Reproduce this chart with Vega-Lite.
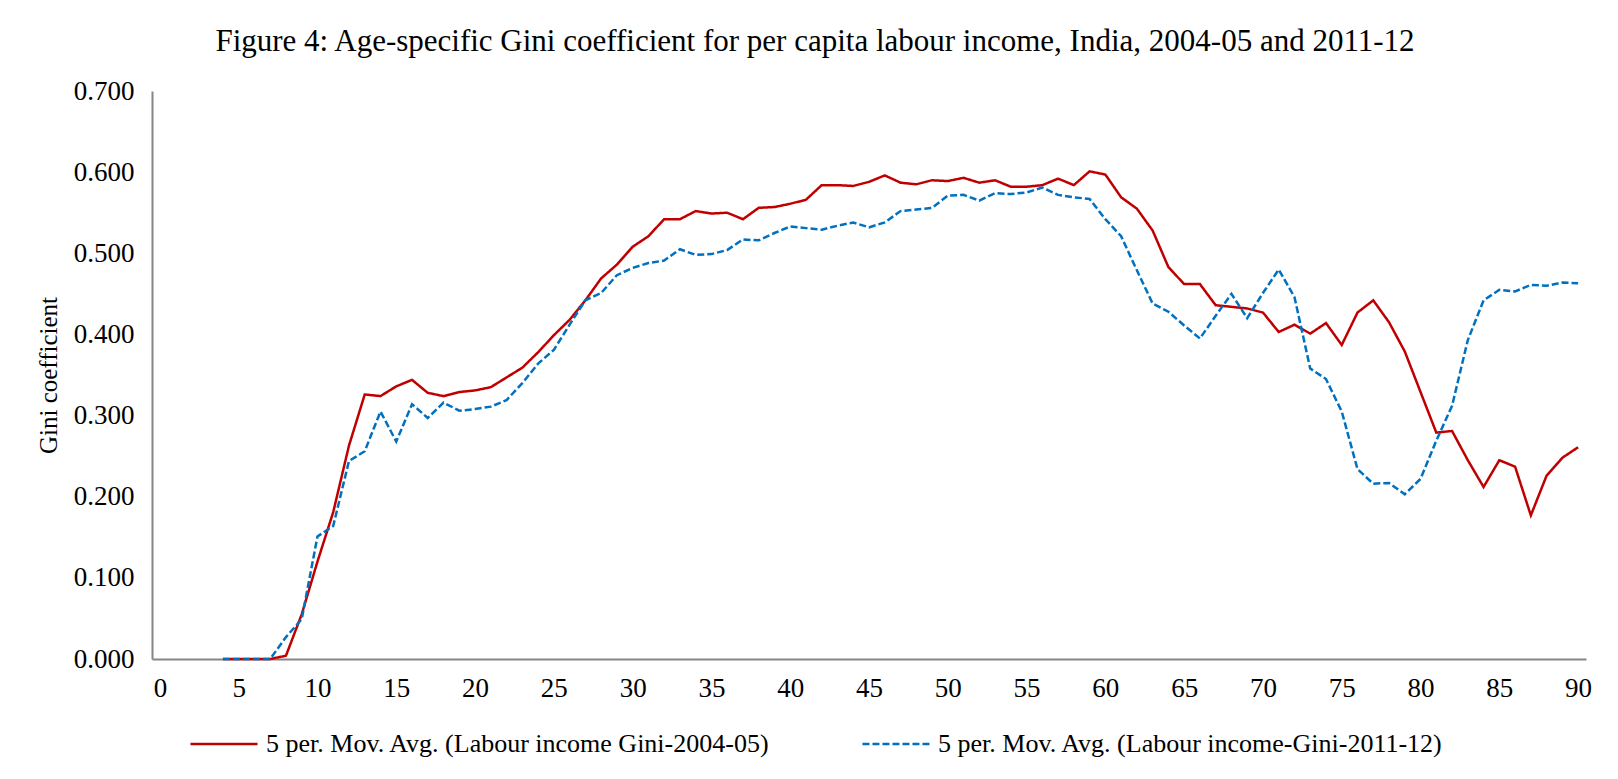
{
  "$schema": "https://vega.github.io/schema/vega-lite/v6.json",
  "width": 1434,
  "height": 568,
  "autosize": {"type": "none"},
  "padding": {"left": 152, "top": 91, "right": 32, "bottom": 120},
  "background": "white",
  "title": {
    "text": "Figure 4: Age-specific Gini coefficient for per capita labour income, India, 2004-05 and 2011-12",
    "font": "Liberation Serif",
    "fontSize": 31,
    "fontWeight": "normal",
    "color": "black",
    "anchor": "middle",
    "dx": -54,
    "offset": 19
  },
  "config": {
    "view": {"stroke": null},
    "axis": {"labelFont": "Liberation Serif", "titleFont": "Liberation Serif", "labelColor": "black", "titleColor": "black", "grid": false, "ticks": false, "domainColor": "#868686", "domainWidth": 2}
  },
  "data": {
    "values": [
      {"age": 4, "series": "5 per. Mov. Avg. (Labour income Gini-2004-05)", "gini": 0},
      {"age": 5, "series": "5 per. Mov. Avg. (Labour income Gini-2004-05)", "gini": 0},
      {"age": 6, "series": "5 per. Mov. Avg. (Labour income Gini-2004-05)", "gini": 0},
      {"age": 7, "series": "5 per. Mov. Avg. (Labour income Gini-2004-05)", "gini": 0},
      {"age": 8, "series": "5 per. Mov. Avg. (Labour income Gini-2004-05)", "gini": 0.004},
      {"age": 9, "series": "5 per. Mov. Avg. (Labour income Gini-2004-05)", "gini": 0.055},
      {"age": 10, "series": "5 per. Mov. Avg. (Labour income Gini-2004-05)", "gini": 0.12},
      {"age": 11, "series": "5 per. Mov. Avg. (Labour income Gini-2004-05)", "gini": 0.181},
      {"age": 12, "series": "5 per. Mov. Avg. (Labour income Gini-2004-05)", "gini": 0.263},
      {"age": 13, "series": "5 per. Mov. Avg. (Labour income Gini-2004-05)", "gini": 0.326},
      {"age": 14, "series": "5 per. Mov. Avg. (Labour income Gini-2004-05)", "gini": 0.324},
      {"age": 15, "series": "5 per. Mov. Avg. (Labour income Gini-2004-05)", "gini": 0.336},
      {"age": 16, "series": "5 per. Mov. Avg. (Labour income Gini-2004-05)", "gini": 0.344},
      {"age": 17, "series": "5 per. Mov. Avg. (Labour income Gini-2004-05)", "gini": 0.328},
      {"age": 18, "series": "5 per. Mov. Avg. (Labour income Gini-2004-05)", "gini": 0.324},
      {"age": 19, "series": "5 per. Mov. Avg. (Labour income Gini-2004-05)", "gini": 0.329},
      {"age": 20, "series": "5 per. Mov. Avg. (Labour income Gini-2004-05)", "gini": 0.331},
      {"age": 21, "series": "5 per. Mov. Avg. (Labour income Gini-2004-05)", "gini": 0.335},
      {"age": 22, "series": "5 per. Mov. Avg. (Labour income Gini-2004-05)", "gini": 0.347},
      {"age": 23, "series": "5 per. Mov. Avg. (Labour income Gini-2004-05)", "gini": 0.359},
      {"age": 24, "series": "5 per. Mov. Avg. (Labour income Gini-2004-05)", "gini": 0.378},
      {"age": 25, "series": "5 per. Mov. Avg. (Labour income Gini-2004-05)", "gini": 0.399},
      {"age": 26, "series": "5 per. Mov. Avg. (Labour income Gini-2004-05)", "gini": 0.418},
      {"age": 27, "series": "5 per. Mov. Avg. (Labour income Gini-2004-05)", "gini": 0.442},
      {"age": 28, "series": "5 per. Mov. Avg. (Labour income Gini-2004-05)", "gini": 0.469},
      {"age": 29, "series": "5 per. Mov. Avg. (Labour income Gini-2004-05)", "gini": 0.486},
      {"age": 30, "series": "5 per. Mov. Avg. (Labour income Gini-2004-05)", "gini": 0.508},
      {"age": 31, "series": "5 per. Mov. Avg. (Labour income Gini-2004-05)", "gini": 0.521},
      {"age": 32, "series": "5 per. Mov. Avg. (Labour income Gini-2004-05)", "gini": 0.542},
      {"age": 33, "series": "5 per. Mov. Avg. (Labour income Gini-2004-05)", "gini": 0.542},
      {"age": 34, "series": "5 per. Mov. Avg. (Labour income Gini-2004-05)", "gini": 0.552},
      {"age": 35, "series": "5 per. Mov. Avg. (Labour income Gini-2004-05)", "gini": 0.549},
      {"age": 36, "series": "5 per. Mov. Avg. (Labour income Gini-2004-05)", "gini": 0.55},
      {"age": 37, "series": "5 per. Mov. Avg. (Labour income Gini-2004-05)", "gini": 0.542},
      {"age": 38, "series": "5 per. Mov. Avg. (Labour income Gini-2004-05)", "gini": 0.556},
      {"age": 39, "series": "5 per. Mov. Avg. (Labour income Gini-2004-05)", "gini": 0.557},
      {"age": 40, "series": "5 per. Mov. Avg. (Labour income Gini-2004-05)", "gini": 0.561},
      {"age": 41, "series": "5 per. Mov. Avg. (Labour income Gini-2004-05)", "gini": 0.566},
      {"age": 42, "series": "5 per. Mov. Avg. (Labour income Gini-2004-05)", "gini": 0.584},
      {"age": 43, "series": "5 per. Mov. Avg. (Labour income Gini-2004-05)", "gini": 0.584},
      {"age": 44, "series": "5 per. Mov. Avg. (Labour income Gini-2004-05)", "gini": 0.583},
      {"age": 45, "series": "5 per. Mov. Avg. (Labour income Gini-2004-05)", "gini": 0.588},
      {"age": 46, "series": "5 per. Mov. Avg. (Labour income Gini-2004-05)", "gini": 0.596},
      {"age": 47, "series": "5 per. Mov. Avg. (Labour income Gini-2004-05)", "gini": 0.587},
      {"age": 48, "series": "5 per. Mov. Avg. (Labour income Gini-2004-05)", "gini": 0.585},
      {"age": 49, "series": "5 per. Mov. Avg. (Labour income Gini-2004-05)", "gini": 0.59},
      {"age": 50, "series": "5 per. Mov. Avg. (Labour income Gini-2004-05)", "gini": 0.589},
      {"age": 51, "series": "5 per. Mov. Avg. (Labour income Gini-2004-05)", "gini": 0.593},
      {"age": 52, "series": "5 per. Mov. Avg. (Labour income Gini-2004-05)", "gini": 0.587},
      {"age": 53, "series": "5 per. Mov. Avg. (Labour income Gini-2004-05)", "gini": 0.59},
      {"age": 54, "series": "5 per. Mov. Avg. (Labour income Gini-2004-05)", "gini": 0.582},
      {"age": 55, "series": "5 per. Mov. Avg. (Labour income Gini-2004-05)", "gini": 0.582},
      {"age": 56, "series": "5 per. Mov. Avg. (Labour income Gini-2004-05)", "gini": 0.584},
      {"age": 57, "series": "5 per. Mov. Avg. (Labour income Gini-2004-05)", "gini": 0.592},
      {"age": 58, "series": "5 per. Mov. Avg. (Labour income Gini-2004-05)", "gini": 0.584},
      {"age": 59, "series": "5 per. Mov. Avg. (Labour income Gini-2004-05)", "gini": 0.601},
      {"age": 60, "series": "5 per. Mov. Avg. (Labour income Gini-2004-05)", "gini": 0.597},
      {"age": 61, "series": "5 per. Mov. Avg. (Labour income Gini-2004-05)", "gini": 0.569},
      {"age": 62, "series": "5 per. Mov. Avg. (Labour income Gini-2004-05)", "gini": 0.555},
      {"age": 63, "series": "5 per. Mov. Avg. (Labour income Gini-2004-05)", "gini": 0.528},
      {"age": 64, "series": "5 per. Mov. Avg. (Labour income Gini-2004-05)", "gini": 0.483},
      {"age": 65, "series": "5 per. Mov. Avg. (Labour income Gini-2004-05)", "gini": 0.462},
      {"age": 66, "series": "5 per. Mov. Avg. (Labour income Gini-2004-05)", "gini": 0.462},
      {"age": 67, "series": "5 per. Mov. Avg. (Labour income Gini-2004-05)", "gini": 0.436},
      {"age": 68, "series": "5 per. Mov. Avg. (Labour income Gini-2004-05)", "gini": 0.434},
      {"age": 69, "series": "5 per. Mov. Avg. (Labour income Gini-2004-05)", "gini": 0.432},
      {"age": 70, "series": "5 per. Mov. Avg. (Labour income Gini-2004-05)", "gini": 0.427},
      {"age": 71, "series": "5 per. Mov. Avg. (Labour income Gini-2004-05)", "gini": 0.403},
      {"age": 72, "series": "5 per. Mov. Avg. (Labour income Gini-2004-05)", "gini": 0.412},
      {"age": 73, "series": "5 per. Mov. Avg. (Labour income Gini-2004-05)", "gini": 0.401},
      {"age": 74, "series": "5 per. Mov. Avg. (Labour income Gini-2004-05)", "gini": 0.414},
      {"age": 75, "series": "5 per. Mov. Avg. (Labour income Gini-2004-05)", "gini": 0.387},
      {"age": 76, "series": "5 per. Mov. Avg. (Labour income Gini-2004-05)", "gini": 0.427},
      {"age": 77, "series": "5 per. Mov. Avg. (Labour income Gini-2004-05)", "gini": 0.442},
      {"age": 78, "series": "5 per. Mov. Avg. (Labour income Gini-2004-05)", "gini": 0.415},
      {"age": 79, "series": "5 per. Mov. Avg. (Labour income Gini-2004-05)", "gini": 0.379},
      {"age": 80, "series": "5 per. Mov. Avg. (Labour income Gini-2004-05)", "gini": 0.329},
      {"age": 81, "series": "5 per. Mov. Avg. (Labour income Gini-2004-05)", "gini": 0.279},
      {"age": 82, "series": "5 per. Mov. Avg. (Labour income Gini-2004-05)", "gini": 0.281},
      {"age": 83, "series": "5 per. Mov. Avg. (Labour income Gini-2004-05)", "gini": 0.245},
      {"age": 84, "series": "5 per. Mov. Avg. (Labour income Gini-2004-05)", "gini": 0.212},
      {"age": 85, "series": "5 per. Mov. Avg. (Labour income Gini-2004-05)", "gini": 0.245},
      {"age": 86, "series": "5 per. Mov. Avg. (Labour income Gini-2004-05)", "gini": 0.237},
      {"age": 87, "series": "5 per. Mov. Avg. (Labour income Gini-2004-05)", "gini": 0.177},
      {"age": 88, "series": "5 per. Mov. Avg. (Labour income Gini-2004-05)", "gini": 0.226},
      {"age": 89, "series": "5 per. Mov. Avg. (Labour income Gini-2004-05)", "gini": 0.248},
      {"age": 90, "series": "5 per. Mov. Avg. (Labour income Gini-2004-05)", "gini": 0.261},
      {"age": 4, "series": "5 per. Mov. Avg. (Labour income-Gini-2011-12)", "gini": 0},
      {"age": 5, "series": "5 per. Mov. Avg. (Labour income-Gini-2011-12)", "gini": 0},
      {"age": 6, "series": "5 per. Mov. Avg. (Labour income-Gini-2011-12)", "gini": 0},
      {"age": 7, "series": "5 per. Mov. Avg. (Labour income-Gini-2011-12)", "gini": 0},
      {"age": 8, "series": "5 per. Mov. Avg. (Labour income-Gini-2011-12)", "gini": 0.027},
      {"age": 9, "series": "5 per. Mov. Avg. (Labour income-Gini-2011-12)", "gini": 0.049},
      {"age": 10, "series": "5 per. Mov. Avg. (Labour income-Gini-2011-12)", "gini": 0.151},
      {"age": 11, "series": "5 per. Mov. Avg. (Labour income-Gini-2011-12)", "gini": 0.164},
      {"age": 12, "series": "5 per. Mov. Avg. (Labour income-Gini-2011-12)", "gini": 0.244},
      {"age": 13, "series": "5 per. Mov. Avg. (Labour income-Gini-2011-12)", "gini": 0.256},
      {"age": 14, "series": "5 per. Mov. Avg. (Labour income-Gini-2011-12)", "gini": 0.305},
      {"age": 15, "series": "5 per. Mov. Avg. (Labour income-Gini-2011-12)", "gini": 0.268},
      {"age": 16, "series": "5 per. Mov. Avg. (Labour income-Gini-2011-12)", "gini": 0.314},
      {"age": 17, "series": "5 per. Mov. Avg. (Labour income-Gini-2011-12)", "gini": 0.297},
      {"age": 18, "series": "5 per. Mov. Avg. (Labour income-Gini-2011-12)", "gini": 0.316},
      {"age": 19, "series": "5 per. Mov. Avg. (Labour income-Gini-2011-12)", "gini": 0.306},
      {"age": 20, "series": "5 per. Mov. Avg. (Labour income-Gini-2011-12)", "gini": 0.308},
      {"age": 21, "series": "5 per. Mov. Avg. (Labour income-Gini-2011-12)", "gini": 0.311},
      {"age": 22, "series": "5 per. Mov. Avg. (Labour income-Gini-2011-12)", "gini": 0.319},
      {"age": 23, "series": "5 per. Mov. Avg. (Labour income-Gini-2011-12)", "gini": 0.34},
      {"age": 24, "series": "5 per. Mov. Avg. (Labour income-Gini-2011-12)", "gini": 0.364},
      {"age": 25, "series": "5 per. Mov. Avg. (Labour income-Gini-2011-12)", "gini": 0.381},
      {"age": 26, "series": "5 per. Mov. Avg. (Labour income-Gini-2011-12)", "gini": 0.412},
      {"age": 27, "series": "5 per. Mov. Avg. (Labour income-Gini-2011-12)", "gini": 0.442},
      {"age": 28, "series": "5 per. Mov. Avg. (Labour income-Gini-2011-12)", "gini": 0.451},
      {"age": 29, "series": "5 per. Mov. Avg. (Labour income-Gini-2011-12)", "gini": 0.473},
      {"age": 30, "series": "5 per. Mov. Avg. (Labour income-Gini-2011-12)", "gini": 0.482},
      {"age": 31, "series": "5 per. Mov. Avg. (Labour income-Gini-2011-12)", "gini": 0.488},
      {"age": 32, "series": "5 per. Mov. Avg. (Labour income-Gini-2011-12)", "gini": 0.491},
      {"age": 33, "series": "5 per. Mov. Avg. (Labour income-Gini-2011-12)", "gini": 0.505},
      {"age": 34, "series": "5 per. Mov. Avg. (Labour income-Gini-2011-12)", "gini": 0.498},
      {"age": 35, "series": "5 per. Mov. Avg. (Labour income-Gini-2011-12)", "gini": 0.499},
      {"age": 36, "series": "5 per. Mov. Avg. (Labour income-Gini-2011-12)", "gini": 0.504},
      {"age": 37, "series": "5 per. Mov. Avg. (Labour income-Gini-2011-12)", "gini": 0.517},
      {"age": 38, "series": "5 per. Mov. Avg. (Labour income-Gini-2011-12)", "gini": 0.516},
      {"age": 39, "series": "5 per. Mov. Avg. (Labour income-Gini-2011-12)", "gini": 0.525},
      {"age": 40, "series": "5 per. Mov. Avg. (Labour income-Gini-2011-12)", "gini": 0.533},
      {"age": 41, "series": "5 per. Mov. Avg. (Labour income-Gini-2011-12)", "gini": 0.531},
      {"age": 42, "series": "5 per. Mov. Avg. (Labour income-Gini-2011-12)", "gini": 0.529},
      {"age": 43, "series": "5 per. Mov. Avg. (Labour income-Gini-2011-12)", "gini": 0.534},
      {"age": 44, "series": "5 per. Mov. Avg. (Labour income-Gini-2011-12)", "gini": 0.538},
      {"age": 45, "series": "5 per. Mov. Avg. (Labour income-Gini-2011-12)", "gini": 0.532},
      {"age": 46, "series": "5 per. Mov. Avg. (Labour income-Gini-2011-12)", "gini": 0.538},
      {"age": 47, "series": "5 per. Mov. Avg. (Labour income-Gini-2011-12)", "gini": 0.552},
      {"age": 48, "series": "5 per. Mov. Avg. (Labour income-Gini-2011-12)", "gini": 0.554},
      {"age": 49, "series": "5 per. Mov. Avg. (Labour income-Gini-2011-12)", "gini": 0.556},
      {"age": 50, "series": "5 per. Mov. Avg. (Labour income-Gini-2011-12)", "gini": 0.571},
      {"age": 51, "series": "5 per. Mov. Avg. (Labour income-Gini-2011-12)", "gini": 0.572},
      {"age": 52, "series": "5 per. Mov. Avg. (Labour income-Gini-2011-12)", "gini": 0.565},
      {"age": 53, "series": "5 per. Mov. Avg. (Labour income-Gini-2011-12)", "gini": 0.574},
      {"age": 54, "series": "5 per. Mov. Avg. (Labour income-Gini-2011-12)", "gini": 0.573},
      {"age": 55, "series": "5 per. Mov. Avg. (Labour income-Gini-2011-12)", "gini": 0.575},
      {"age": 56, "series": "5 per. Mov. Avg. (Labour income-Gini-2011-12)", "gini": 0.581},
      {"age": 57, "series": "5 per. Mov. Avg. (Labour income-Gini-2011-12)", "gini": 0.572},
      {"age": 58, "series": "5 per. Mov. Avg. (Labour income-Gini-2011-12)", "gini": 0.569},
      {"age": 59, "series": "5 per. Mov. Avg. (Labour income-Gini-2011-12)", "gini": 0.567},
      {"age": 60, "series": "5 per. Mov. Avg. (Labour income-Gini-2011-12)", "gini": 0.542},
      {"age": 61, "series": "5 per. Mov. Avg. (Labour income-Gini-2011-12)", "gini": 0.521},
      {"age": 62, "series": "5 per. Mov. Avg. (Labour income-Gini-2011-12)", "gini": 0.479},
      {"age": 63, "series": "5 per. Mov. Avg. (Labour income-Gini-2011-12)", "gini": 0.438},
      {"age": 64, "series": "5 per. Mov. Avg. (Labour income-Gini-2011-12)", "gini": 0.428},
      {"age": 65, "series": "5 per. Mov. Avg. (Labour income-Gini-2011-12)", "gini": 0.411},
      {"age": 66, "series": "5 per. Mov. Avg. (Labour income-Gini-2011-12)", "gini": 0.395},
      {"age": 67, "series": "5 per. Mov. Avg. (Labour income-Gini-2011-12)", "gini": 0.423},
      {"age": 68, "series": "5 per. Mov. Avg. (Labour income-Gini-2011-12)", "gini": 0.45},
      {"age": 69, "series": "5 per. Mov. Avg. (Labour income-Gini-2011-12)", "gini": 0.42},
      {"age": 70, "series": "5 per. Mov. Avg. (Labour income-Gini-2011-12)", "gini": 0.451},
      {"age": 71, "series": "5 per. Mov. Avg. (Labour income-Gini-2011-12)", "gini": 0.48},
      {"age": 72, "series": "5 per. Mov. Avg. (Labour income-Gini-2011-12)", "gini": 0.446},
      {"age": 73, "series": "5 per. Mov. Avg. (Labour income-Gini-2011-12)", "gini": 0.358},
      {"age": 74, "series": "5 per. Mov. Avg. (Labour income-Gini-2011-12)", "gini": 0.345},
      {"age": 75, "series": "5 per. Mov. Avg. (Labour income-Gini-2011-12)", "gini": 0.305},
      {"age": 76, "series": "5 per. Mov. Avg. (Labour income-Gini-2011-12)", "gini": 0.234},
      {"age": 77, "series": "5 per. Mov. Avg. (Labour income-Gini-2011-12)", "gini": 0.216},
      {"age": 78, "series": "5 per. Mov. Avg. (Labour income-Gini-2011-12)", "gini": 0.217},
      {"age": 79, "series": "5 per. Mov. Avg. (Labour income-Gini-2011-12)", "gini": 0.203},
      {"age": 80, "series": "5 per. Mov. Avg. (Labour income-Gini-2011-12)", "gini": 0.222},
      {"age": 81, "series": "5 per. Mov. Avg. (Labour income-Gini-2011-12)", "gini": 0.269},
      {"age": 82, "series": "5 per. Mov. Avg. (Labour income-Gini-2011-12)", "gini": 0.312},
      {"age": 83, "series": "5 per. Mov. Avg. (Labour income-Gini-2011-12)", "gini": 0.393},
      {"age": 84, "series": "5 per. Mov. Avg. (Labour income-Gini-2011-12)", "gini": 0.442},
      {"age": 85, "series": "5 per. Mov. Avg. (Labour income-Gini-2011-12)", "gini": 0.455},
      {"age": 86, "series": "5 per. Mov. Avg. (Labour income-Gini-2011-12)", "gini": 0.453},
      {"age": 87, "series": "5 per. Mov. Avg. (Labour income-Gini-2011-12)", "gini": 0.461},
      {"age": 88, "series": "5 per. Mov. Avg. (Labour income-Gini-2011-12)", "gini": 0.46},
      {"age": 89, "series": "5 per. Mov. Avg. (Labour income-Gini-2011-12)", "gini": 0.464},
      {"age": 90, "series": "5 per. Mov. Avg. (Labour income-Gini-2011-12)", "gini": 0.463}
    ]
  },
  "mark": {"type": "line", "strokeWidth": 2.5},
  "encoding": {
    "x": {
      "field": "age",
      "type": "quantitative",
      "scale": {"domain": [-0.5, 90.5], "nice": false, "zero": false},
      "axis": {"title": null, "values": [0, 5, 10, 15, 20, 25, 30, 35, 40, 45, 50, 55, 60, 65, 70, 75, 80, 85, 90], "labelFontSize": 27, "labelPadding": 16, "labelFlush": false}
    },
    "y": {
      "field": "gini",
      "type": "quantitative",
      "scale": {"domain": [0, 0.7], "nice": false},
      "axis": {"title": "Gini coefficient", "titleFontSize": 25, "titleFontWeight": "normal", "titlePadding": 12, "values": [0, 0.1, 0.2, 0.3, 0.4, 0.5, 0.6, 0.7], "format": ".3f", "labelFontSize": 27, "labelPadding": 18, "labelFlush": false}
    },
    "color": {
      "field": "series",
      "type": "nominal",
      "scale": {"domain": ["5 per. Mov. Avg. (Labour income Gini-2004-05)", "5 per. Mov. Avg. (Labour income-Gini-2011-12)"], "range": ["#C00000", "#0070C0"]},
      "legend": {"title": null, "orient": "none", "legendX": 37, "legendY": 618, "direction": "horizontal", "symbolType": "stroke", "symbolSize": 4500, "symbolStrokeWidth": 2.5, "labelFont": "Liberation Serif", "labelFontSize": 26, "labelColor": "black", "labelOffset": 7, "columnPadding": 86, "labelLimit": 800}
    },
    "strokeDash": {
      "field": "series",
      "type": "nominal",
      "scale": {"domain": ["5 per. Mov. Avg. (Labour income Gini-2004-05)", "5 per. Mov. Avg. (Labour income-Gini-2011-12)"], "range": [[1, 0], [7, 3]]},
      "legend": {"title": null, "orient": "none", "legendX": 37, "legendY": 618, "direction": "horizontal", "symbolType": "stroke", "symbolSize": 4500, "symbolStrokeWidth": 2.5, "labelFont": "Liberation Serif", "labelFontSize": 26, "labelColor": "black", "labelOffset": 7, "columnPadding": 86, "labelLimit": 800}
    },
    "order": {"field": "series"}
  }
}
